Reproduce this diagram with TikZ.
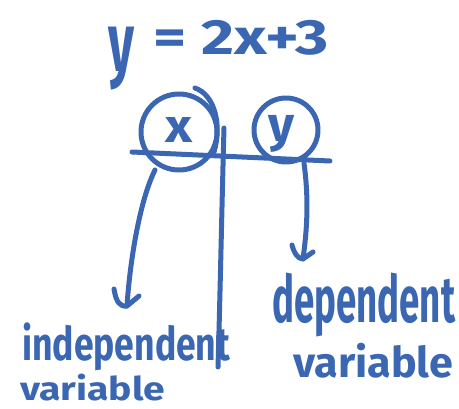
\documentclass[tikz,border=0pt]{standalone}
\usepackage{fontspec}
\setmainfont{Fira Sans}
\usepackage{graphicx}
\definecolor{ink}{HTML}{3A66B2}
\tikzset{
  pen/.style={draw=ink, line width=5pt, line cap=round, line join=round},
  hw/.style={inner sep=0pt, anchor=north west, text=ink, font=\bfseries},
}
\begin{document}
\begin{tikzpicture}[x=1pt,y=-1pt]
\useasboundingbox (0,0) rectangle (459,409);
% title
\node[hw] (ty) at (108,27) {\resizebox*{26pt}{63pt}{y}};
\node[hw] (teq) at (153,20) {\resizebox*{175pt}{35pt}{= 2x+3}};
% circles
\node[pen, circle, minimum width=76pt, inner sep=0pt] (cx) at (179,132) {};
\draw[pen] (195,88) .. controls (215,95) and (222,125) .. (214,152);
\node[pen, circle, minimum width=64pt, inner sep=0pt] (cy) at (286,130) {};
\node[hw] (lx) at (165,117) {\resizebox*{27pt}{25pt}{x}};
\node[hw] (ly) at (268,115) {\resizebox*{26pt}{37pt}{y}};
% axis lines
\coordinate (hl) at (132,152);
\coordinate (hr) at (330,161);
\draw[pen] (hl) -- (hr);
\coordinate (vt) at (224,128);
\coordinate (vb) at (218,367);
\draw[pen] (vt) .. controls (222,200) and (220,300) .. (vb);
% left arrow
\coordinate (la) at (155,170);
\coordinate (lt) at (127,306);
\draw[pen] (la) .. controls (140,200) and (130,260) .. (lt);
\draw[pen] (114,289) .. controls (116,302) and (120,307) .. (lt) -- (139,296);
% right arrow
\coordinate (ra) at (304,163);
\coordinate (rt) at (303,259);
\draw[pen] (ra) .. controls (309,200) and (307,230) .. (rt);
\draw[pen] (292,245) .. controls (294,253) and (298,259) .. (rt) -- (313,252);
% labels
\node[hw] (ind) at (22,323) {\resizebox*{208pt}{48pt}{independent}};
\node[hw] (var1) at (20,374) {\resizebox*{145pt}{27pt}{variable}};
\node[hw] (dep) at (272,273) {\resizebox*{183pt}{64pt}{dependent}};
\node[hw] (var2) at (293,343) {\resizebox*{160pt}{35pt}{variable}};
\end{tikzpicture}
\end{document}
